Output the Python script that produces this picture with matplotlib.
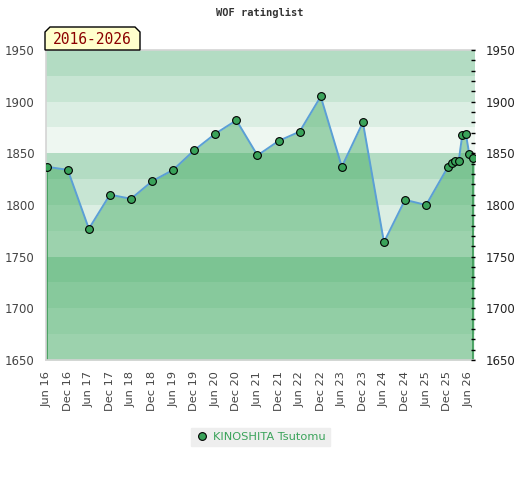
import matplotlib
matplotlib.use("Agg")
import matplotlib.pyplot as plt
from matplotlib.patches import Polygon
from matplotlib.ticker import MultipleLocator
import numpy as np

# rating list dates (YYYY-MM-DD) and ratings
dates = ["2016-06-01", "2016-12-01", "2017-06-01", "2017-12-01", "2018-06-01",
         "2018-12-01", "2019-06-01", "2019-12-01", "2020-06-01", "2020-12-01",
         "2021-06-01", "2021-12-01", "2022-06-01", "2022-12-01", "2023-06-01",
         "2023-12-01", "2024-06-01", "2024-12-01", "2025-06-01", "2025-12-08",
         "2026-01-10", "2026-02-10", "2026-03-10", "2026-04-10", "2026-05-10",
         "2026-06-10", "2026-07-10"]
ratings = [1837, 1834, 1777, 1810, 1806, 1823, 1834, 1853, 1869, 1882,
           1848, 1862, 1871, 1905, 1837, 1880, 1764, 1805, 1800, 1837,
           1841, 1843, 1843, 1868, 1869, 1849, 1845]
tick_labels = []
tick_pos = []
for yr in range(16, 27):
    tick_labels.append(f"Jun {yr}")
    tick_pos.append(2000 + yr + 5 / 12)
    if yr < 26:
        tick_labels.append(f"Dec {yr}")
        tick_pos.append(2000 + yr + 11 / 12)

player = "KINOSHITA Tsutomu"
period = "2016-2026"
title = "WOF ratinglist"


def to_year(s):
    y, m, d = [int(v) for v in s.split("-")]
    return y + (m - 1) / 12 + (d - 1) / 365


x = np.array([to_year(d) for d in dates])
y = np.array(ratings)

W, H = 520, 480
fig = plt.figure(figsize=(W / 100, H / 100), dpi=100)
ax = fig.add_axes([46 / W, 1 - 360 / H, (475 - 46) / W, (360 - 50) / H])

ymin, ymax = 1650, 1950
band_cols = ["#eef7f1", "#dbeee3", "#c7e5d3", "#b3dcc3"]  # x50, x75, x00, x25
for lo in range(ymin, ymax, 25):
    idx = ((lo - 1650) // 25) % 4
    ax.axhspan(lo, lo + 25, color=band_cols[idx], lw=0, zorder=0)

ax.fill_between(x, y, ymin, color="#3aa75a", alpha=0.45, lw=0, zorder=1)
ax.vlines([x[0], x[-1]], ymin, [y[0], y[-1]], color="#3a9a55", lw=1.2, zorder=2)
ax.plot(x, y, color="#5b9fd6", lw=1.4, zorder=3)
ax.plot(x, y, "o", ms=5.6, mfc="#3aa35a", mec="black", mew=0.8, zorder=4,
        label=player)

ax.set_xlim(2016.40, 2026.576)
ax.set_ylim(ymin, ymax)
ax.set_xticks(tick_pos)
ax.set_xticklabels(tick_labels, rotation=90, fontsize=8.2, color="#444444")
ax.set_yticks(range(1650, 1951, 50))
ax.tick_params(axis="y", length=0, labelsize=8.5, labelcolor="#444444", pad=8)
ax.tick_params(axis="x", length=0, pad=8)
for s in ["top", "left", "bottom"]:
    ax.spines[s].set_color("#d4d4d4")
    ax.spines[s].set_linewidth(1.2)
ax.spines["right"].set_visible(False)

ax2 = ax.twinx()
ax2.set_ylim(ymin, ymax)
ax2.set_yticks(range(1650, 1951, 50))
ax2.yaxis.set_minor_locator(MultipleLocator(10))
ax2.tick_params(axis="y", which="both", direction="in", labelsize=8.5,
                labelcolor="#222222", pad=8)
ax2.tick_params(axis="y", which="major", length=3, width=1)
ax2.tick_params(axis="y", which="minor", length=3, width=1)
for s in ax2.spines.values():
    s.set_visible(False)

fig.text(260 / W, 1 - 13 / H, title, ha="center", va="center",
         family="DejaVu Sans Mono", fontweight="bold", fontsize=7.5,
         color="#333333")

# period label with chamfered corners
px = [(45, 50), (45, 32), (50, 27), (135, 27), (140, 32), (140, 50)]
poly = Polygon([(a / W, 1 - b / H) for a, b in px], closed=True,
               transform=fig.transFigure, facecolor="#ffffcc",
               edgecolor="black", lw=1, zorder=5)
fig.add_artist(poly)
fig.text(92.5 / W, 1 - 39.5 / H, period, ha="center", va="center",
         family="DejaVu Sans Mono", fontsize=10.5, color="#8b0000", zorder=6)

leg = ax.legend(loc="center", bbox_to_anchor=(260.5 / W, 1 - 437 / H),
                bbox_transform=fig.transFigure, frameon=True, fancybox=False,
                facecolor="#eeeeee", edgecolor="#eeeeee", framealpha=1,
                fontsize=8.2, handletextpad=0.4, borderpad=0.35,
                handlelength=1.2)
for t in leg.get_texts():
    t.set_color("#3aa35a")

fig.savefig("out.png", dpi=100)
